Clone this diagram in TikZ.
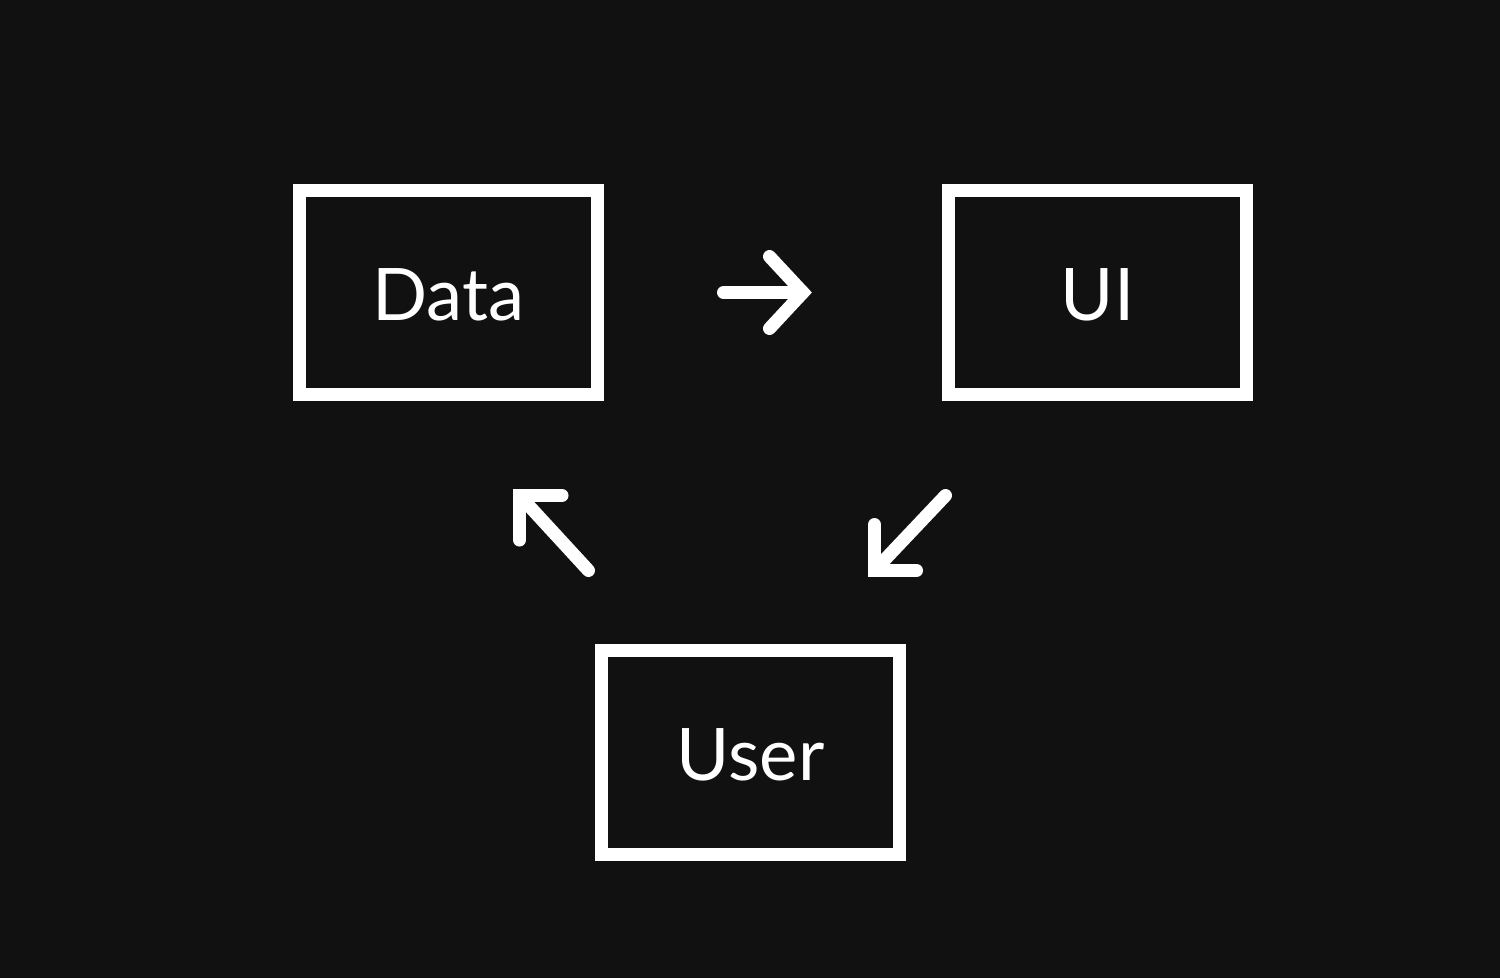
\documentclass[tikz,border=0pt]{standalone}
\usepackage{fontspec}
\setmainfont{Lato}
\usetikzlibrary{calc}
\definecolor{bg}{HTML}{111111}
\newcommand{\boxtext}[1]{\raisebox{-2.5pt}[\height][0pt]{#1}}
\tikzset{
  box/.style={draw=white, line width=13pt, minimum width=298pt, minimum height=204pt, inner sep=0pt, text=white, font=\fontsize{72.5}{80}\selectfont},
  arrowline/.style={draw=white, line width=13pt, line cap=round, line join=miter}
}
\begin{document}
\begin{tikzpicture}[x=1pt, y=-1pt]
\fill[bg] (0,0) rectangle (1500,978);
\useasboundingbox (0,0) rectangle (1500,978);
\node[box] (data) at (448.5,292.5) {\boxtext{Data}};
\node[box] (ui) at (1097.5,292.5) {\boxtext{UI}};
\node[box] (user) at (750.5,752.5) {\boxtext{User}};
% Data -> UI
\coordinate (a1s) at (723.5,292.5);
\coordinate (a1e) at (803,292.5);
\draw[arrowline] (a1s) -- (a1e);
\draw[arrowline] ($(a1e)+(-33.5,-36)$) -- (a1e) -- ($(a1e)+(-33.5,36)$);
% UI -> User
\coordinate (a2s) at (945.5,495.5);
\coordinate (a2e) at (874.5,570.5);
\draw[arrowline] (a2s) -- (a2e);
\draw[arrowline] ($(a2e)+(0,-46)$) -- (a2e) -- ($(a2e)+(42,0)$);
% User -> Data
\coordinate (a3s) at (588.5,570.5);
\coordinate (a3e) at (519.5,495.5);
\draw[arrowline] (a3s) -- (a3e);
\draw[arrowline] ($(a3e)+(42.5,0)$) -- (a3e) -- ($(a3e)+(0,44.5)$);
\end{tikzpicture}
\end{document}
